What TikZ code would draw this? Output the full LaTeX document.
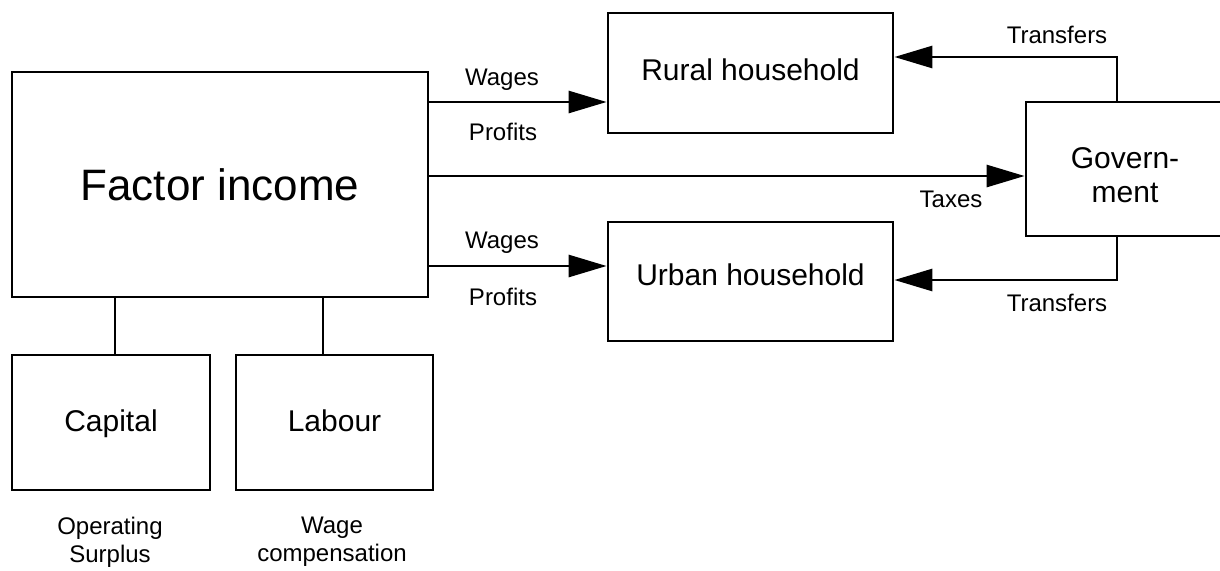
\documentclass[tikz,border=0pt]{standalone}
\usepackage{fontspec}
\setmainfont{Liberation Sans}
\usetikzlibrary{arrows.meta}
\tikzset{
  box/.style={draw, line width=2.8pt, rectangle, inner sep=0pt, align=center},
  flow/.style={line width=2.8pt, -{Triangle[length=38pt,width=22pt]}},
  link/.style={line width=2.8pt},
  lbl/.style={inner sep=0pt, align=center, font=\fontsize{24}{28}\selectfont},
  big/.style={font=\fontsize{44}{50}\selectfont},
  mid/.style={font=\fontsize{30}{34}\selectfont},
}
\begin{document}
\begin{tikzpicture}[x=1pt,y=-1pt]
\useasboundingbox (0,0) rectangle (1220,570);

% boxes
\node[box,big,minimum width=416pt,minimum height=225pt] (factor) at (220,184.5) {Factor income};
\node[box,mid,minimum width=285pt,minimum height=120pt,text height=18pt,text depth=2.5pt] (rural) at (750.5,73) {Rural household};
\node[box,mid,minimum width=285pt,minimum height=119pt,text height=11pt,text depth=2.5pt] (urban) at (750.5,281.5) {Urban household};
\node[box,minimum width=198pt,minimum height=134pt] (gov) at (1125,169) {};
\node[mid,inner sep=0pt,align=center] (govtext) at ([yshift=-6pt]gov.center) {Govern-\\ment};
\node[box,mid,minimum width=198pt,minimum height=135pt,text height=21pt,text depth=2.5pt] (capital) at (111,422.5) {Capital};
\node[box,mid,minimum width=197pt,minimum height=135pt,text height=21pt,text depth=2.5pt] (labour) at (334.5,422.5) {Labour};

% flows out of factor income
\draw[flow] (factor.east |- 0,102) -- (rural.west |- 0,102);
\draw[flow] (factor.east |- 0,176) -- (gov.west |- 0,176);
\draw[flow] (factor.east |- 0,266) -- (urban.west |- 0,266);

% transfers from government
\coordinate (tt) at (1117,57);
\coordinate (tb) at (1117,280);
\draw[flow] (gov.north -| tt) -- (tt) -- (rural.east |- tt);
\draw[flow] (gov.south -| tb) -- (tb) -- (urban.east |- tb);

% factors of production
\draw[link] (factor.south -| 115,0) -- (capital.north -| 115,0);
\draw[link] (factor.south -| 323,0) -- (labour.north -| 323,0);

% labels
\node[lbl] (w1) at (502,80) {Wages};
\node[lbl] (p1) at (503,132) {Profits};
\node[lbl] (w2) at (502,243) {Wages};
\node[lbl] (p2) at (503,297) {Profits};
\node[lbl] (tx) at (951,199) {Taxes};
\node[lbl] (tr1) at (1057,35) {Transfers};
\node[lbl] (tr2) at (1057,303) {Transfers};
\node[lbl] (os) at (110,542) {Operating\\Surplus};
\node[lbl] (wc) at (332,542) {Wage\\compensation};
\end{tikzpicture}
\end{document}
